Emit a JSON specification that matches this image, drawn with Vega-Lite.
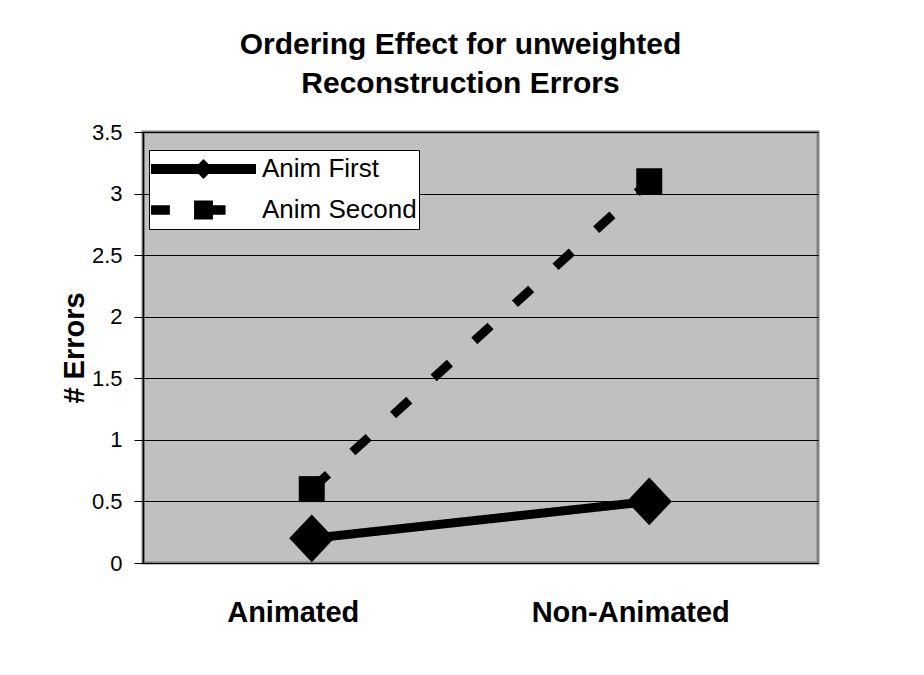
{
  "$schema": "https://vega.github.io/schema/vega-lite/v6.json",
  "width": 675,
  "height": 431,
  "autosize": {"type": "none"},
  "padding": {"left": 143, "top": 132, "right": 106, "bottom": 112},
  "background": "white",
  "title": {
    "text": ["Ordering Effect for unweighted", "Reconstruction Errors"],
    "font": "Liberation Sans",
    "fontSize": 30,
    "fontWeight": "bold",
    "color": "black",
    "lineHeight": 39,
    "anchor": "middle",
    "dx": -20,
    "offset": 22
  },
  "data": {
    "values": [
      {"condition": "Animated", "series": "Anim First", "errors": 0.2},
      {"condition": "Non-Animated", "series": "Anim First", "errors": 0.5},
      {"condition": "Animated", "series": "Anim Second", "errors": 0.6},
      {"condition": "Non-Animated", "series": "Anim Second", "errors": 3.1}
    ]
  },
  "encoding": {
    "x": {
      "field": "condition",
      "type": "nominal",
      "sort": null,
      "scale": {"type": "point", "padding": 0.5, "domain": ["Animated", "Non-Animated"]},
      "axis": {
        "title": null,
        "labelFontSize": 29,
        "labelFontWeight": "bold",
        "ticks": false,
        "tickSize": 0,
        "domain": false,
        "grid": false,
        "labelAngle": 0,
        "labelBaseline": "alphabetic",
        "labelPadding": 58,
        "labelOffset": -19,
        "labelLimit": 500
      }
    },
    "y": {
      "field": "errors",
      "type": "quantitative",
      "scale": {"domain": [0, 3.5], "nice": false},
      "axis": {
        "title": "# Errors",
        "titleFontSize": 29,
        "titleFontWeight": "bold",
        "titlePadding": 2,
        "labelFontSize": 22,
        "labelPadding": 12,
        "labelBaseline": "middle",
        "tickSize": 9,
        "tickColor": "black",
        "domainColor": "black",
        "domainWidth": 1.5,
        "grid": true,
        "gridColor": "black",
        "gridWidth": 1,
        "gridOpacity": 1,
        "values": [0, 0.5, 1, 1.5, 2, 2.5, 3, 3.5],
        "format": "~g"
      }
    }
  },
  "layer": [
    {
      "mark": {"type": "line", "color": "black", "strokeWidth": 9, "strokeCap": "butt"},
      "encoding": {
        "strokeDash": {
          "field": "series",
          "type": "nominal",
          "scale": {"domain": ["Anim First", "Anim Second"], "range": [[1, 0], [22, 33]]},
          "legend": null
        }
      }
    },
    {
      "mark": {"type": "point", "filled": true, "color": "black", "opacity": 1, "size": 2116, "strokeWidth": 0},
      "encoding": {
        "shape": {
          "field": "series",
          "type": "nominal",
          "scale": {
            "domain": ["Anim First", "Anim Second"],
            "range": ["M0,-1.04L0.98,0L0,1.04L-0.98,0Z", "M-0.565,-0.565H0.565V0.565H-0.565Z"]
          },
          "legend": null
        }
      }
    },
    {
      "mark": {"type": "point", "filled": true, "color": "black", "opacity": 0},
      "encoding": {
        "shape": {
          "field": "series",
          "type": "nominal",
          "scale": {
            "domain": ["Anim First", "Anim Second"],
            "range": [
              "M-1,-0.095H1V0.095H-1Z M0,-0.19L0.19,0L0,0.19L-0.19,0Z",
              "M-1,-0.09H-0.64V0.09H-1Z M-0.18,-0.18H0.18V0.18H-0.18Z M0.18,-0.09H0.42V0.09H0.18Z"
            ]
          },
          "legend": {
            "title": null,
            "orient": "none",
            "legendX": 6,
            "legendY": 18,
            "fillColor": "white",
            "strokeColor": "black",
            "padding": 2,
            "symbolSize": 11025,
            "clipHeight": 34,
            "rowPadding": 7,
            "labelFont": "Liberation Sans",
            "labelFontSize": 26,
            "labelColor": "black",
            "labelOffset": 6,
            "labelLimit": 300,
            "symbolOpacity": 1,
            "symbolStrokeWidth": 0,
            "symbolFillColor": "black"
          }
        }
      }
    }
  ],
  "resolve": {"scale": {"shape": "independent"}},
  "config": {
    "view": {"stroke": "#808080", "strokeWidth": 3, "fill": "#c0c0c0"},
    "axis": {"labelFont": "Liberation Sans", "titleFont": "Liberation Sans", "labelColor": "black", "titleColor": "black"}
  }
}
